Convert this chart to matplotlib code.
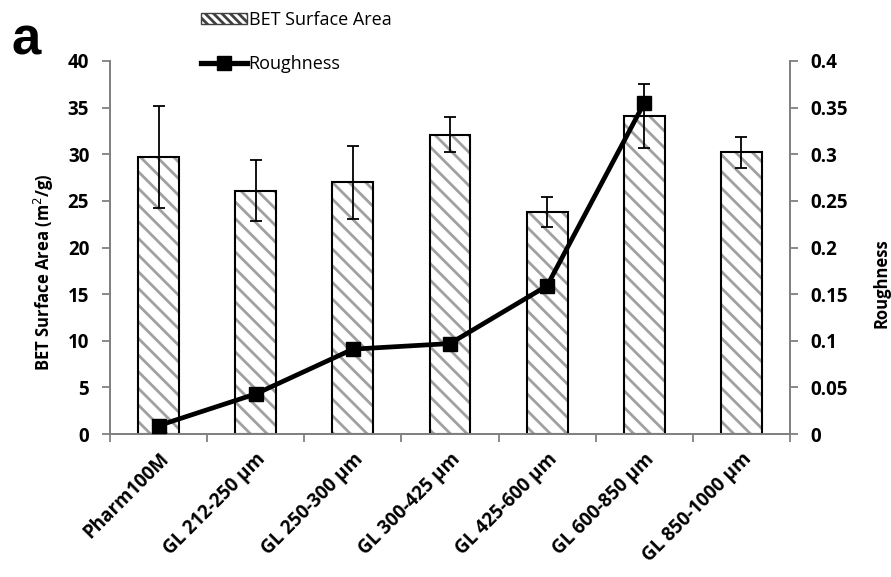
import numpy as np
import matplotlib.pyplot as plt
from matplotlib.patches import Patch
from matplotlib.lines import Line2D

samples = ["Pharm100M", "GL 212-250 µm", "GL 250-300 µm", "GL 300-425 µm",
           "GL 425-600 µm", "GL 600-850 µm", "GL 850-1000 µm"]
bet_area = [29.7, 26.1, 27.0, 32.1, 23.8, 34.1, 30.2]
bet_err = [5.5, 3.3, 3.9, 1.9, 1.6, 3.4, 1.65]
roughness = [0.009, 0.043, 0.091, 0.097, 0.159, 0.355]

plt.rcParams['font.family'] = ['Open Sans', 'DejaVu Sans']
plt.rcParams['hatch.linewidth'] = 2.0

HATCH_GREY = '#a0a0a0'
AXIS_GREY = '#808080'

fig = plt.figure(figsize=(8.91, 5.77), dpi=100)
ax = fig.add_axes([0.1235, 0.2478, 0.7631, 0.6465])
ax2 = ax.twinx()

x = np.arange(len(samples))
# grey stripes first, then the black outline on top
ax.bar(x, bet_area, width=0.42, color='white', edgecolor=HATCH_GREY,
       linewidth=0, hatch='\\\\', zorder=2)
ax.bar(x, bet_area, width=0.42, fill=False, edgecolor='black',
       linewidth=1.5, zorder=2.5)
ax.errorbar(x, bet_area, yerr=bet_err, fmt='none', ecolor='black',
            elinewidth=1.3, capsize=4, capthick=1.3, zorder=3)

ax2.plot(x[:len(roughness)], roughness, color='black', lw=3.4,
         marker='s', markersize=10, zorder=4)

ax.set_xlim(-0.5, len(samples) - 0.5)
ax.set_ylim(0, 40)
ax.set_yticks(np.arange(0, 41, 5))
ax2.set_ylim(0, 0.4)
ax2.set_yticks(np.arange(0, 0.41, 0.05))
ax2.set_yticklabels(['0', '0.05', '0.1', '0.15', '0.2', '0.25', '0.3', '0.35', '0.4'])

# category boundaries carry the ticks, labels sit at bar centres
ax.set_xticks(np.arange(-0.5, len(samples)), minor=False)
ax.set_xticklabels([])
ax.set_xticks(x, minor=True)
ax.set_xticklabels(samples, minor=True, rotation=45, ha='right',
                   rotation_mode='anchor', fontsize=13.5, fontweight='bold')
ax.tick_params(axis='x', which='minor', length=0, pad=11)
ax.tick_params(axis='x', which='major', length=6, color=AXIS_GREY, width=1.3)

for a in (ax, ax2):
    for s in a.spines.values():
        s.set_color(AXIS_GREY)
        s.set_linewidth(1.3)
    a.spines['top'].set_visible(False)
ax.tick_params(axis='y', length=6, color=AXIS_GREY, width=1.3, labelsize=13.5, pad=9)
ax2.tick_params(axis='y', length=6, color=AXIS_GREY, width=1.3, labelsize=13.5, pad=9)
for lab in ax.get_yticklabels() + ax2.get_yticklabels():
    lab.set_fontweight('bold')

ax.set_ylabel('BET Surface Area (m$^2$/g)', fontsize=12, fontweight='bold')
ax.yaxis.set_label_coords(-0.08, 0.434)
ax2.set_ylabel('Roughness', fontsize=12, fontweight='bold')
ax2.yaxis.set_label_coords(1.121, 0.405)

handles = [Patch(facecolor='white', edgecolor=HATCH_GREY, hatch='\\\\\\\\', linewidth=0),
           Line2D([], [], color='black', lw=3.8, marker='s', markersize=10)]
leg = fig.legend(handles, ['BET Surface Area', 'Roughness'], loc='upper left',
                 bbox_to_anchor=(0.207, 1.009), frameon=False, fontsize=13,
                 handlelength=2.55, handleheight=0.6, handletextpad=0.1,
                 labelspacing=1.45)
leg.get_patches()[0].set_edgecolor('#404040')
leg.get_patches()[0].set_linewidth(1.0)

fig.text(0.013, 0.905, 'a', fontsize=38, fontweight='bold',
         family='Liberation Sans', va='baseline')

fig.savefig('out.png', dpi=100)
